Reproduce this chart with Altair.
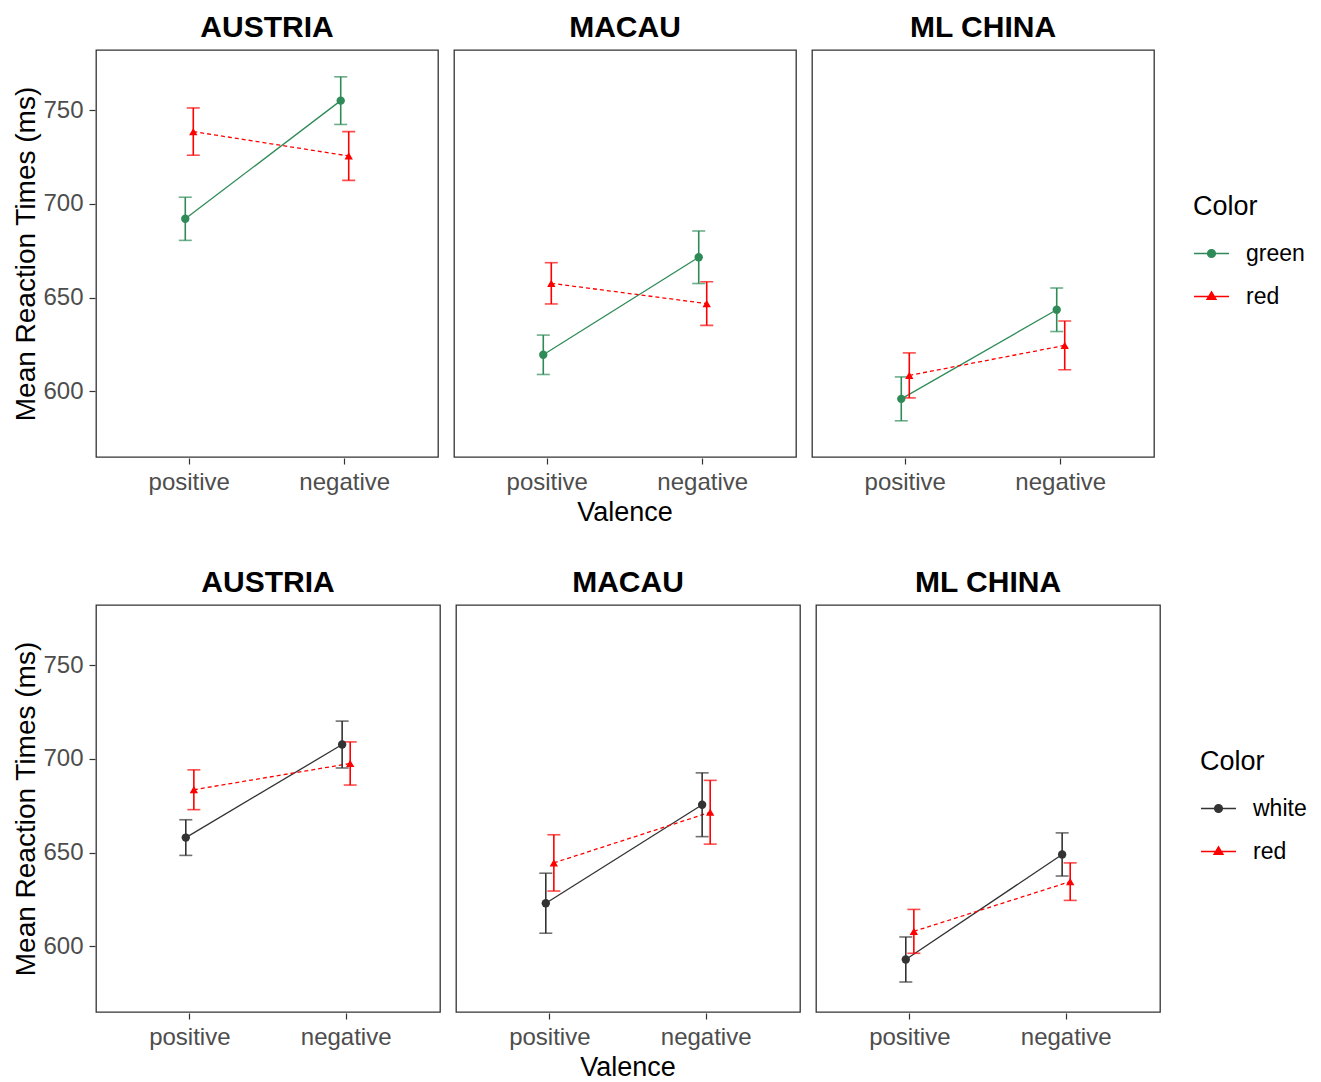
import altair as alt
import pandas as pd

# ---- data -------------------------------------------------------------
countries = ["AUSTRIA", "MACAU", "ML CHINA"]
valence = ["positive", "negative"]

# top row: green vs red (per country: positive, negative)
top_levels = ["green", "red"]
top_green_mean = [692.0, 755.0, 619.5, 671.5, 596.0, 643.5]
top_green_err = [11.5, 12.7, 10.5, 14.0, 11.7, 11.6]
top_red_mean = [738.5, 725.5, 657.6, 646.8, 608.5, 624.5]
top_red_err = [12.6, 13.0, 11.0, 11.6, 12.0, 13.0]

# bottom row: white vs red
bottom_levels = ["white", "red"]
bottom_white_mean = [658.0, 707.6, 623.0, 675.5, 593.0, 649.0]
bottom_white_err = [9.5, 12.5, 16.0, 17.0, 12.0, 11.5]
bottom_red_mean = [683.5, 697.5, 644.5, 671.5, 608.0, 634.5]
bottom_red_err = [10.6, 11.5, 15.0, 17.0, 11.7, 10.0]

top_palette = ["#2E8B57", "#FF0000"]
bottom_palette = ["#333333", "#FF0000"]

FONT = "Liberation Sans"


def long_table(levels, means, errs):
    rows = []
    for level, m_list, e_list in zip(levels, means, errs):
        i = 0
        for c in countries:
            for v in valence:
                rows.append({"Country": c, "Valence": v, "Color": level,
                             "mean": m_list[i], "lo": m_list[i] - e_list[i],
                             "hi": m_list[i] + e_list[i]})
                i += 1
    return pd.DataFrame(rows)


top_df = long_table(top_levels, [top_green_mean, top_red_mean],
                    [top_green_err, top_red_err])
bottom_df = long_table(bottom_levels, [bottom_white_mean, bottom_red_mean],
                       [bottom_white_err, bottom_red_err])

# legend keys: a short line with the marker sitting on it
LINE_DOT = ("M-1,0L1,0M0.22,0A0.22,0.22,0,1,1,-0.22,0"
            "A0.22,0.22,0,1,1,0.22,0Z")
LINE_TRI = "M-1,0L1,0M0,-0.26L0.25,0.16L-0.25,0.16Z"


def panel_row(df, levels, palette, width, legend_x, legend_y):
    legend = alt.Legend(
        title="Color", orient="none", legendX=legend_x, legendY=legend_y,
        titleFont=FONT, titleFontSize=27, titleFontWeight="normal",
        titleColor="black", titlePadding=14,
        labelFont=FONT, labelFontSize=23, labelColor="black",
        labelOffset=16, rowPadding=12, symbolSize=1225,
        symbolStrokeWidth=1.5, symbolOpacity=1,
    )
    color = alt.Color("Color:N", sort=levels,
                      scale=alt.Scale(domain=levels, range=palette),
                      legend=legend)
    x = alt.X("Valence:N", sort=valence,
              scale=alt.Scale(type="band", paddingInner=0.897,
                              paddingOuter=0.5486),
              axis=alt.Axis(title=None, labelAngle=0, labelPadding=6))
    xoff = alt.XOffset("Color:N", sort=levels,
                       scale=alt.Scale(domain=levels, paddingInner=0,
                                       paddingOuter=0))
    yscale = alt.Scale(domain=[565, 782], nice=False, zero=False)
    yaxis = alt.Axis(title="Mean Reaction Times (ms)",
                     values=[600, 650, 700, 750], titlePadding=2,
                     labelPadding=6)

    base = alt.Chart().encode(x=x, xOffset=xoff, color=color)
    y_mean = alt.Y("mean:Q", scale=yscale, axis=yaxis)
    first = alt.datum.Color == levels[0]
    second = alt.datum.Color == levels[1]

    line_a = base.transform_filter(first).mark_line(strokeWidth=1.3).encode(
        y=y_mean)
    line_b = base.transform_filter(second).mark_line(
        strokeWidth=1.3, strokeDash=[4, 3]).encode(y=y_mean)
    bars = base.mark_rule(strokeWidth=1.6).encode(
        y=alt.Y("lo:Q", scale=yscale, axis=yaxis), y2="hi:Q")
    cap_lo = base.mark_tick(thickness=1.6, size=13, orient="horizontal").encode(
        y=alt.Y("lo:Q", scale=yscale, axis=yaxis))
    cap_hi = base.mark_tick(thickness=1.6, size=13, orient="horizontal").encode(
        y=alt.Y("hi:Q", scale=yscale, axis=yaxis))
    dots = base.transform_filter(first).mark_point(
        shape="circle", filled=True, size=70, opacity=1).encode(y=y_mean)
    tris = base.transform_filter(second).mark_point(
        shape="triangle-up", filled=True, size=70, opacity=1).encode(y=y_mean)
    # empty layer that only supplies the legend keys
    key = base.transform_filter("false").mark_point(
        filled=True, opacity=1, strokeWidth=1.5
    ).encode(
        y=y_mean,
        shape=alt.Shape("Color:N", sort=levels,
                        scale=alt.Scale(domain=levels,
                                        range=[LINE_DOT, LINE_TRI]),
                        legend=legend),
        stroke=alt.Stroke("Color:N", sort=levels,
                          scale=alt.Scale(domain=levels, range=palette),
                          legend=legend),
    )

    layered = alt.layer(line_a, line_b, bars, cap_lo, cap_hi, dots, tris, key,
                        data=df).properties(width=width, height=407)

    return layered.facet(
        column=alt.Column(
            "Country:N", sort=countries, title="Valence",
            header=alt.Header(labelOrient="top", labelFont=FONT,
                              labelFontSize=30, labelFontWeight="bold",
                              labelColor="black", labelPadding=6,
                              titleOrient="bottom", titleFont=FONT,
                              titleFontSize=27, titleFontWeight="normal",
                              titleColor="black", titlePadding=-4),
        ),
        spacing=14,
    )


top_row = panel_row(top_df, top_levels, top_palette, 342, 1097, 144)
bottom_row = panel_row(bottom_df, bottom_levels, bottom_palette, 344, 1104, 144)

chart = alt.vconcat(top_row, bottom_row, spacing=42).resolve_scale(
    color="independent", shape="independent", stroke="independent",
    xOffset="independent",
).resolve_legend(
    color="independent", shape="independent", stroke="independent",
).properties(
    padding={"left": 12, "top": 13, "right": 0, "bottom": 0},
    background="white",
).configure_view(
    stroke="#333333", strokeWidth=1.3,
).configure_axis(
    labelFont=FONT, labelFontSize=24, labelColor="#4D4D4D",
    titleFont=FONT, titleFontSize=28, titleFontWeight="normal",
    titleColor="black", grid=False, domain=False,
    tickColor="#333333", tickSize=6, tickWidth=1.2,
)

chart.save("out.html", embed_options={"renderer": "svg", "actions": False})
